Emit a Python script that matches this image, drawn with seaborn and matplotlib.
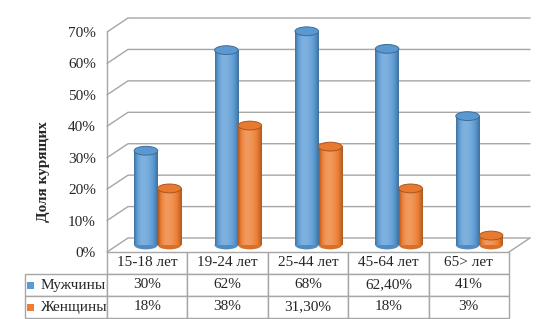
"""Smoking share by age group: pseudo-3D cylinders with a data table."""
import matplotlib
matplotlib.use('Agg')
import matplotlib.pyplot as plt
import matplotlib.colors as mcolors
import numpy as np
import pandas as pd
import seaborn as sns
from matplotlib.patches import Ellipse, Rectangle
from matplotlib.transforms import Affine2D

# data
categories = ['15-18 лет', '19-24 лет', '25-44 лет', '45-64 лет', '65> лет']
series_names = ['Мужчины', 'Женщины']
men = [30, 62, 68, 62.4, 41]
women = [18, 38, 31.3, 18, 3]
men_labels = ['30%', '62%', '68%', '62,40%', '41%']
women_labels = ['18%', '38%', '31,30%', '18%', '3%']
y_ticks = [0, 10, 20, 30, 40, 50, 60, 70]

COLORS = ['#5B9BD5', '#ED7D31']
GRID_C = '#A6A6A6'

sns.set_style('white')
plt.rcParams['font.family'] = ['Liberation Serif', 'DejaVu Serif']

df = pd.DataFrame({
    'cat': categories * 2,
    'val': men + women,
    'sex': [series_names[0]] * len(categories) + [series_names[1]] * len(categories),
})

fig = plt.figure(figsize=(5.4, 3.19), dpi=100)
ax = fig.add_axes([107 / 540, 1 - 252 / 319, 423 / 540, 234 / 319])

# depth of the 3D box in data units
DX = 0.261
DY = 4.45
ELL_H = 2.8

sns.barplot(data=df, x='cat', y='val', hue='sex', palette=COLORS,
            width=0.585, gap=0, legend=False, ax=ax, zorder=3)

shift = Affine2D().translate(DX / 2, DY / 2) + ax.transData


def shade(color, b):
    rgb = np.array(mcolors.to_rgb(color))
    if b >= 0:
        return rgb + (1 - rgb) * b
    return rgb * (1 + b)


t = np.linspace(0, 1, 64)
d = np.where(t < 0.38, (0.38 - t) / 0.38, (t - 0.38) / 0.62)
bright = 0.22 - 0.5 * d ** 2

for cont, col in zip(ax.containers, COLORS):
    grad = np.array([[shade(col, b) for b in bright]])
    for bar in cont:
        x0, w, h = bar.get_x(), bar.get_width(), bar.get_height()
        bar.set_transform(shift)
        bar.set_visible(False)
        ax.add_patch(Ellipse((x0 + w / 2, 0), w, ELL_H, transform=shift,
                             facecolor=shade(col, -0.1), edgecolor='none',
                             zorder=2))
        im = ax.imshow(grad, extent=(x0, x0 + w, 0, h), aspect='auto',
                       interpolation='bilinear', zorder=3)
        im.set_transform(shift)
        ax.add_patch(Ellipse((x0 + w / 2, h), w, ELL_H, transform=shift,
                             facecolor=shade(col, -0.02),
                             edgecolor=shade(col, -0.3), lw=0.7, zorder=4))

# walls and floor of the box
n = len(categories)
for tk in y_ticks:
    ax.plot([-0.5, -0.5 + DX, n - 0.5 + DX], [tk, tk + DY, tk + DY],
            color=GRID_C, lw=1, zorder=0, clip_on=False)
ax.plot([-0.5, -0.5], [0, y_ticks[-1]], color=GRID_C, lw=1, zorder=0, clip_on=False)
ax.plot([n - 0.5, n - 0.5 + DX], [0, DY], color=GRID_C, lw=1, zorder=0, clip_on=False)

ax.set_xlim(-0.5, n - 0.5 + DX)
ax.set_ylim(0, y_ticks[-1] + DY)
ax.set_xticks([])
ax.set_xlabel('')
ax.set_yticks(y_ticks)
ax.set_yticklabels(['{}%'.format(v) for v in y_ticks], fontsize=11)
ax.tick_params(axis='y', length=0, pad=8)
for s in ax.spines.values():
    s.set_visible(False)
ax.set_ylabel('Доля курящих', fontsize=11, fontweight='bold')
ax.yaxis.set_label_coords(-0.135, 0.342)

# data table
tb_x, tb_y = -82 / 423, -66 / 234
tb_w, tb_h = 484 / 423, 66 / 234
cell_text = [[series_names[0]] + men_labels, [series_names[1]] + women_labels]
col_w = [82 / 484] + [80.4 / 484] * n
table = ax.table(cellText=cell_text, colLabels=[''] + categories,
                 cellLoc='center', colWidths=col_w,
                 bbox=[tb_x, tb_y, tb_w, tb_h])
table.auto_set_font_size(False)
table.set_fontsize(11)
for (r, c), cell in table.get_celld().items():
    cell.set_edgecolor(GRID_C)
    cell.set_linewidth(1)
    if r == 0 and c == 0:
        cell.visible_edges = 'open'
    if c == 0 and r > 0:
        cell.set_text_props(ha='left')
        cell.PAD = 0.19

# legend keys in the row-label cells
key_w, key_h = 7 / 423, 7 / 234
for i, col in enumerate(COLORS):
    yc = tb_y + tb_h * (0.5 - i / 3)
    ax.add_patch(Rectangle((tb_x + 2 / 423, yc - key_h / 2), key_w, key_h,
                           transform=ax.transAxes, facecolor=col,
                           edgecolor='none', clip_on=False))

fig.savefig('out.png', dpi=100)
